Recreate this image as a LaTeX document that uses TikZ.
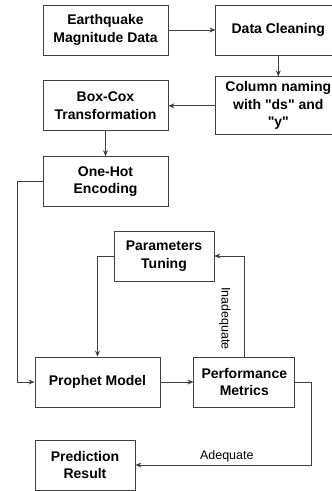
\documentclass[tikz,border=0pt]{standalone}
\usepackage{fontspec}
\setmainfont{Liberation Sans}
\usepackage{tikz}
\usetikzlibrary{arrows.meta, positioning}

\begin{document}
\begin{tikzpicture}[
    x=1pt, y=-1pt,
    node distance=25pt,
    box/.style={rectangle, draw=black!75, line width=0.8pt, fill=white,
                minimum width=125pt, minimum height=50pt, align=center,
                inner sep=2pt, font=\fontsize{14}{17.5}\selectfont\bfseries},
    sbox/.style={box, minimum width=100pt},
    lbl/.style={font=\fontsize{12.5}{14}\selectfont, inner sep=1pt},
    arr/.style={-{Stealth[length=6pt, width=5pt]}, line width=0.8pt, draw=black!75}
]
\clip (0,0) rectangle (332,491);
\node[box] (quake) at (105.5,30) {Earthquake\\Magnitude Data};
\node[box, right=47pt of quake] (clean) {Data Cleaning};
\node[box, below=21pt of clean, minimum height=58pt] (naming) {Column naming\\with \textquotedbl ds\textquotedbl{} and\\\textquotedbl y\textquotedbl};
\node[box, below=25pt of quake] (boxcox) {Box-Cox\\Transformation};
\node[box, below=25pt of boxcox] (onehot) {One-Hot\\Encoding};
\node[sbox] (tuning) at (164,256) {Parameters\\Tuning};
\node[box] (prophet) at (97.5,382) {Prophet Model};
\node[sbox, minimum width=101pt, right=33pt of prophet] (metrics) {Performance\\Metrics};
\node[sbox] (result) at (85,465) {Prediction\\Result};
% connectors
\draw[arr] (quake) -- (clean);
\draw[arr] (clean) -- (naming);
\draw[arr] (naming) -- (boxcox);
\draw[arr] (boxcox) -- (onehot);
\draw[arr] (onehot.west) -| ++(-25,0) |- (prophet.west);
\draw[arr] (tuning.west) -| (prophet.north);
\draw[arr] (prophet) -- (metrics);
\draw[arr] (metrics.north) |- node[lbl, pos=0.19, xshift=-19.5pt, rotate=-90] {Inadequate} (tuning.east);
\draw[arr] (metrics.east) -| ++(16,83) -- node[lbl, pos=0.48, above=2pt] {Adequate} (result.east |- 0,465);
\end{tikzpicture}
\end{document}
